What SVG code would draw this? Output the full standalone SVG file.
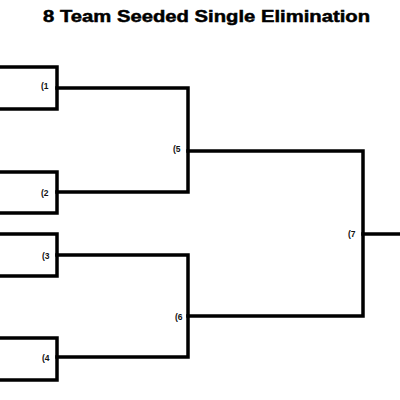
<svg xmlns="http://www.w3.org/2000/svg" width="400" height="400" viewBox="0 0 400 400">
<style>
.ln{fill:none;stroke:#000;stroke-width:3.5;stroke-linejoin:miter;stroke-linecap:square}
.lb{font-family:"Liberation Sans",Arial,sans-serif;font-weight:bold;font-size:8.5px;fill:#111}
.tt{font-family:"Liberation Sans",Arial,sans-serif;font-weight:bold;font-size:17px;fill:#000;stroke:#000;stroke-width:0.5}
</style>
<rect width="400" height="400" fill="#fff"/>
<text class="tt" x="43" y="22" textLength="327" lengthAdjust="spacingAndGlyphs">8 Team Seeded Single Elimination</text>
<g id="team1"><path class="ln" d="M-5 67H57V109H-5"/><text class="lb" x="41" y="89">(1</text></g>
<g id="team2"><path class="ln" d="M-5 172H57V213H-5"/><text class="lb" x="41" y="196">(2</text></g>
<g id="team3"><path class="ln" d="M-5 234H57V276H-5"/><text class="lb" x="42" y="259">(3</text></g>
<g id="team4"><path class="ln" d="M-5 338H57V380H-5"/><text class="lb" x="42" y="361">(4</text></g>
<g id="game5"><text class="lb" x="173" y="152">(5</text></g>
<g id="game6"><text class="lb" x="175" y="320">(6</text></g>
<g id="game7"><text class="lb" x="348" y="237">(7</text></g>
<g id="connectors">
<path class="ln" d="M57 88H188V192H57"/>
<path class="ln" d="M57 255H188V357H57"/>
<path class="ln" d="M188 151H363V316H188"/>
<path class="ln" d="M363 234H405"/>
</g>
</svg>
